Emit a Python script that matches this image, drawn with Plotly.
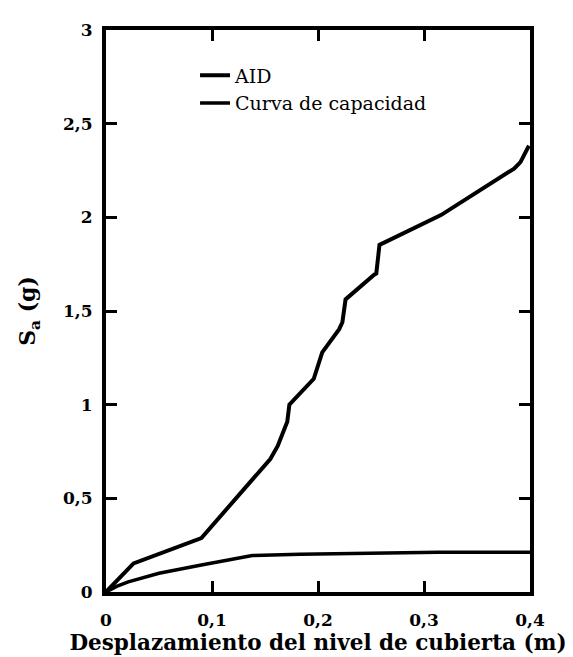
import plotly.graph_objects as go

# AID curve
aid_x = [0, 0.026, 0.09, 0.155, 0.162, 0.171, 0.173, 0.196, 0.204, 0.220, 0.223, 0.226, 0.253, 0.255, 0.258, 0.316, 0.385, 0.391, 0.399]
aid_y = [0, 0.153, 0.288, 0.71, 0.78, 0.909, 1.0, 1.138, 1.279, 1.403, 1.44, 1.562, 1.694, 1.70, 1.853, 2.012, 2.26, 2.295, 2.383]

# Capacity curve
cap_x = [0, 0.01, 0.021, 0.05, 0.09, 0.12, 0.138, 0.183, 0.25, 0.314, 0.4]
cap_y = [0, 0.03, 0.054, 0.10, 0.144, 0.175, 0.195, 0.201, 0.206, 0.212, 0.212]

x_ticks = [0, 0.1, 0.2, 0.3, 0.4]
x_tick_labels = ["0", "0,1", "0,2", "0,3", "0,4"]
y_ticks = [0, 0.5, 1, 1.5, 2, 2.5, 3]
y_tick_labels = ["0", "0,5", "1", "1,5", "2", "2,5", "3"]

font_family = "DejaVu Serif"

fig = go.Figure()
fig.add_trace(go.Scatter(x=aid_x, y=aid_y, mode="lines", name="AID",
                         line=dict(color="black", width=4)))
fig.add_trace(go.Scatter(x=cap_x, y=cap_y, mode="lines", name="Curva de capacidad",
                         line=dict(color="black", width=3.5)))

axis_common = dict(
    showgrid=False, zeroline=False, showline=True, linecolor="black", linewidth=4,
    mirror="ticks", ticks="inside", ticklen=11, tickwidth=3, tickcolor="black",
    tickfont=dict(family=font_family, size=17, color="black", weight="bold"),
)

fig.update_layout(
    width=573, height=657,
    margin=dict(l=98, r=51, t=19, b=73),
    paper_bgcolor="white", plot_bgcolor="white",
    font=dict(family=font_family, color="black"),
    showlegend=True,
    legend=dict(x=0.21, y=0.953, xanchor="left", yanchor="top",
                bgcolor="rgba(0,0,0,0)",
                font=dict(family=font_family, size=19, color="black"),
                tracegroupgap=0),
    xaxis=dict(range=[0, 0.4], tickvals=x_ticks, ticktext=x_tick_labels,
               ticklabelstandoff=10,
               title=dict(text="Desplazamiento del nivel de cubierta (m)",
                          font=dict(family=font_family, size=21.5, color="black", weight="bold"),
                          standoff=0),
               **axis_common),
    yaxis=dict(range=[0, 3], tickvals=y_ticks, ticktext=y_tick_labels,
               ticklabelstandoff=6,
               title=dict(text="S<sub>a</sub> (g)",
                          font=dict(family=font_family, size=22, color="black", weight="bold"),
                          standoff=22),
               **axis_common),
)

fig.write_html("out.html")
